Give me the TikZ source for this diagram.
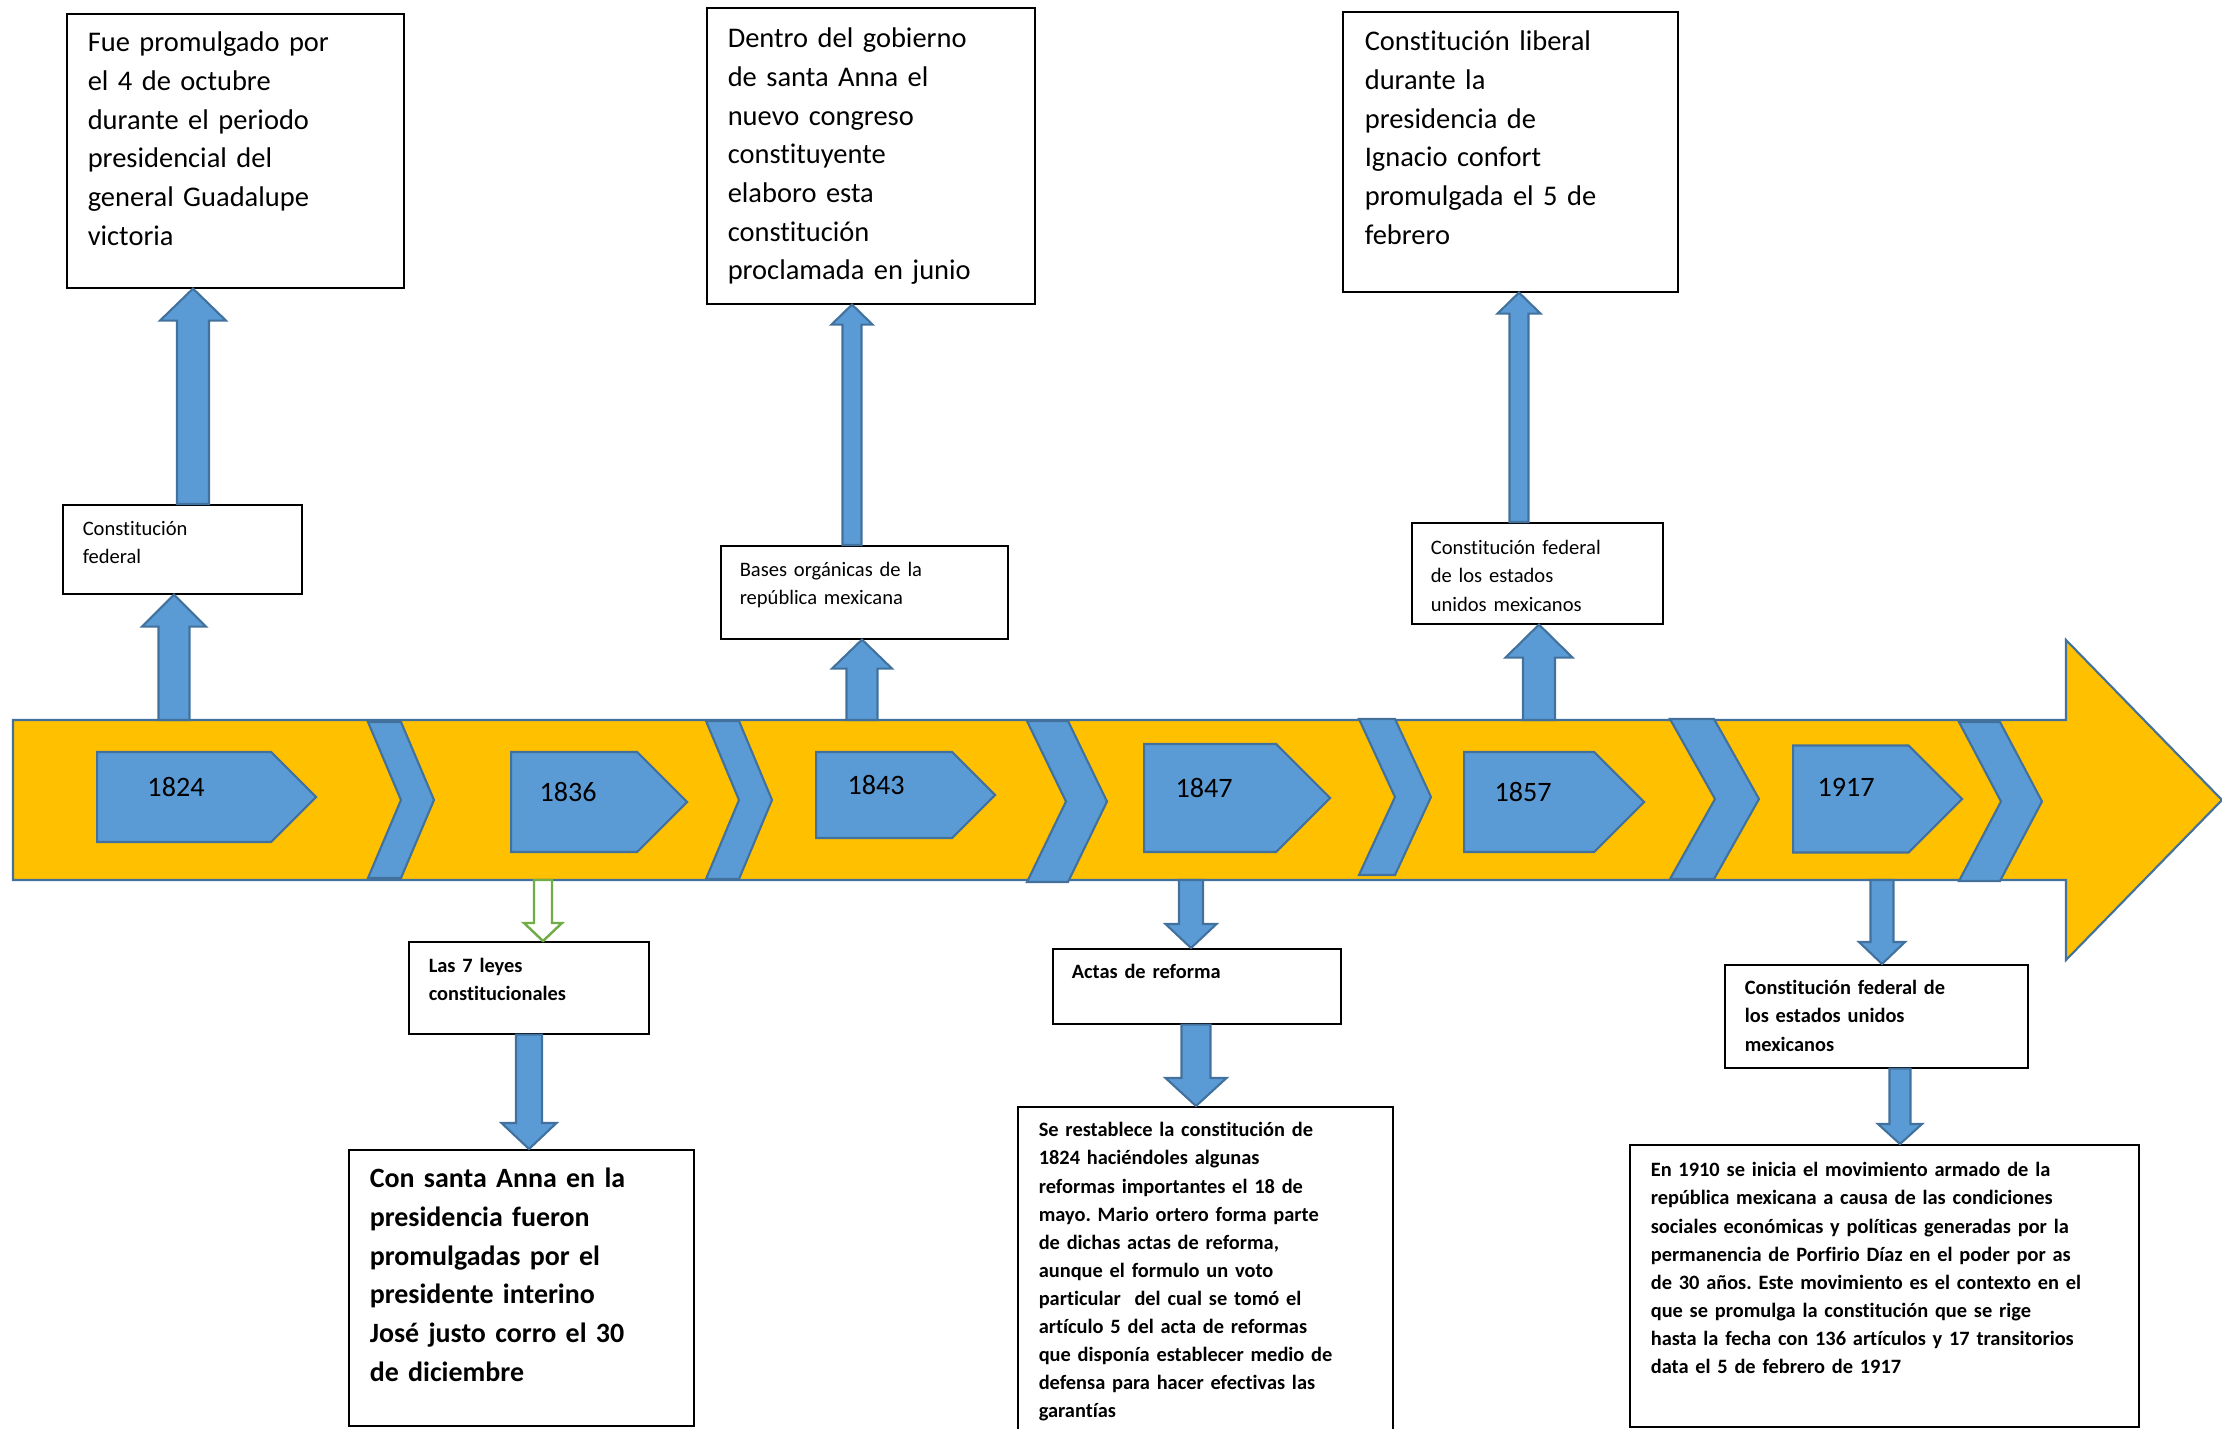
\documentclass[tikz,border=0pt]{standalone}
\usepackage{fontspec}
\setmainfont{Carlito}[Ligatures=NoCommon]
\usetikzlibrary{shapes.symbols,calc}

\definecolor{gold}{HTML}{FFC000}
\definecolor{bfill}{HTML}{5B9BD5}
\definecolor{bline}{HTML}{41719C}
\definecolor{gline}{HTML}{70AD47}

\tikzset{
	band/.style={fill=gold, draw=bline, line width=0.6pt},
	chevron/.style={fill=bfill, draw=bline, line width=0.6pt},
	year/.style={signal, signal to=east, fill=bfill, draw=bline, line width=0.6pt, inner sep=0pt, anchor=west},
	yearlbl/.style={font=\fontsize{8}{9.6}\selectfont, inner sep=0pt},
	blockarrow/.style={fill=bfill, draw=bline, line width=0.6pt},
	hollowarrow/.style={fill=white, draw=gline, line width=0.7pt},
	box/.style={draw=black, fill=white, line width=0.45pt, anchor=north west, align=left, inner ysep=0pt},
	bigbox/.style={box, font=\fontsize{8.1}{11}\selectfont},
	smallbox/.style={box, font=\fontsize{5.85}{8}\selectfont},
	bigbold/.style={box, font=\fontsize{7.95}{11}\selectfont\bfseries},
	smallbold/.style={box, font=\fontsize{5.8}{8}\selectfont\bfseries},
	inbox/.style n args={4}{inner xsep=#1cm, text width=#2cm, text height=#3cm, text depth=#4cm},
}

% fat block arrow between two points on one vertical line
\newcommand{\fatarrow}[6][blockarrow]{%
	\draw[#1] let \p1=#2, \p2=#3, \p3=($(\p2)!#6!(\p1)$) in
		(\x1-#4,\y1) -- (\x1-#4,\y3) -- (\x1-#5,\y3) -- (\x2,\y2)
		-- (\x1+#5,\y3) -- (\x1+#4,\y3) -- (\x1+#4,\y1) -- cycle;}

\frenchspacing

\begin{document}
\begin{tikzpicture}
	\useasboundingbox (0,0) rectangle (22.22,-14.29);

	% timeline band
	\draw[band] (0.13,-7.20) -- (20.66,-7.20) -- (20.66,-6.40) -- (22.22,-8.00)
		-- (20.66,-9.60) -- (20.66,-8.80) -- (0.13,-8.80) -- cycle;
	\coordinate (bandtop) at (0,-7.20);
	\coordinate (bandbot) at (0,-8.80);

	\foreach \l/\w/\d/\t/\b in {3.68/0.33/0.33/7.22/8.78, 7.06/0.33/0.33/7.21/8.79,
			10.27/0.41/0.39/7.21/8.82, 13.59/0.36/0.36/7.19/8.75,
			16.70/0.44/0.45/7.19/8.79, 19.59/0.41/0.42/7.22/8.81}
		\draw[chevron] (\l,-\t) -- ++(\w,0) -- ({\l+\w+\d},{-\t/2-\b/2}) -- ({\l+\w},-\b)
			-- (\l,-\b) -- ({\l+\d},{-\t/2-\b/2}) -- cycle;

	% years
	\node[year, minimum width=2.19cm, minimum height=0.90cm] (p1824) at (0.96,-7.97)  {};
	\node[year, minimum width=1.76cm, minimum height=1.00cm] (p1836) at (5.10,-8.02)  {};
	\node[year, minimum width=1.79cm, minimum height=0.86cm] (p1843) at (8.15,-7.95)  {};
	\node[year, minimum width=1.86cm, minimum height=1.08cm] (p1847) at (11.43,-7.98) {};
	\node[year, minimum width=1.80cm, minimum height=1.00cm] (p1857) at (14.63,-8.02) {};
	\node[year, minimum width=1.69cm, minimum height=1.07cm] (p1917) at (17.92,-7.99) {};

	\node[yearlbl] (t1824) at (1.76,-7.87)  {1824};
	\node[yearlbl] (t1836) at (5.68,-7.92)  {1836};
	\node[yearlbl] (t1843) at (8.76,-7.85)  {1843};
	\node[yearlbl] (t1847) at (12.04,-7.88) {1847};
	\node[yearlbl] (t1857) at (15.23,-7.92) {1857};
	\node[yearlbl] (t1917) at (18.46,-7.87) {1917};

	% boxes above
	\node[bigbox, inbox={0.21}{2.95}{0.38}{2.36}] (fue) at (0.66,-0.13)
		{Fue promulgado por\\el 4 de octubre\\durante el periodo\\presidencial del\\general Guadalupe\\victoria};
	\node[bigbox, inbox={0.21}{2.86}{0.40}{2.56}] (dentro) at (7.06,-0.07)
		{Dentro del gobierno\\de santa Anna el\\nuevo congreso\\constituyente\\elaboro esta\\constitución\\proclamada en junio};
	\node[bigbox, inbox={0.22}{2.91}{0.39}{2.41}] (liberal) at (13.42,-0.11)
		{Constitución liberal\\durante la\\presidencia de\\Ignacio confort\\promulgada el 5 de\\febrero};
	\node[smallbox, inbox={0.20}{1.99}{0.31}{0.58}] (cf) at (0.62,-5.04)
		{Constitución\\federal};
	\node[smallbox, inbox={0.19}{2.49}{0.31}{0.62}] (bases) at (7.20,-5.45)
		{Bases orgánicas de la\\república mexicana};
	\node[smallbox, inbox={0.19}{2.13}{0.32}{0.69}] (cfeu) at (14.11,-5.22)
		{Constitución federal\\de los estados\\unidos mexicanos};

	% boxes below
	\node[smallbold, inbox={0.20}{2.00}{0.31}{0.61}] (leyes) at (4.08,-9.41)
		{Las 7 leyes\\constitucionales};
	\node[bigbold, inbox={0.21}{3.03}{0.38}{2.38}] (santa) at (3.48,-11.49)
		{Con santa Anna en la\\presidencia fueron\\promulgadas por el\\presidente interino\\José justo corro el 30\\de diciembre};
	\node[smallbold, inbox={0.19}{2.50}{0.30}{0.45}] (actas) at (10.52,-9.48)
		{Actas de reforma};
	\node[smallbold, inbox={0.21}{3.33}{0.30}{3.10}] (restab) at (10.17,-11.06)
		{Se restablece la constitución de\\1824 haciéndoles algunas\\reformas importantes el 18 de\\mayo. Mario ortero forma parte\\de dichas actas de reforma,\\aunque el formulo un voto\\particular\ \ del cual se tomó el\\artículo 5 del acta de reformas\\que disponía establecer medio de\\defensa para hacer efectivas las\\garantías};
	\node[smallbold, inbox={0.20}{2.63}{0.30}{0.73}] (cfeu2) at (17.24,-9.64)
		{Constitución federal de\\los estados unidos\\mexicanos};
	\node[smallbold, inbox={0.21}{4.67}{0.32}{2.50}] (en1910) at (16.29,-11.44)
		{En 1910 se inicia el movimiento armado de la\\república mexicana a causa de las condiciones\\sociales económicas y políticas generadas por la\\permanencia de Porfirio Díaz en el poder por as\\de 30 años. Este movimiento es el contexto en el\\que se promulga la constitución que se rige\\hasta la fecha con 136 artículos y 17 transitorios\\data el 5 de febrero de 1917};

	% arrows up
	\fatarrow{(1.74,0 |- bandtop)}{(1.74,0 |- cf.south)}{0.155cm}{0.32cm}{0.32cm}
	\fatarrow{(1.93,0 |- cf.north)}{(1.93,0 |- fue.south)}{0.16cm}{0.33cm}{0.32cm}
	\fatarrow{(8.62,0 |- bandtop)}{(8.62,0 |- bases.south)}{0.155cm}{0.30cm}{0.29cm}
	\fatarrow{(8.52,0 |- bases.north)}{(8.52,0 |- dentro.south)}{0.095cm}{0.205cm}{0.20cm}
	\fatarrow{(15.39,0 |- bandtop)}{(15.39,0 |- cfeu.south)}{0.16cm}{0.335cm}{0.33cm}
	\fatarrow{(15.19,0 |- cfeu.north)}{(15.19,0 |- liberal.south)}{0.095cm}{0.215cm}{0.21cm}

	% arrows down
	\fatarrow[hollowarrow]{(5.43,0 |- bandbot)}{(5.43,0 |- leyes.north)}{0.09cm}{0.19cm}{0.18cm}
	\fatarrow{(5.29,0 |- leyes.south)}{(5.29,0 |- santa.north)}{0.13cm}{0.275cm}{0.26cm}
	\fatarrow{(11.91,0 |- bandbot)}{(11.91,0 |- actas.north)}{0.12cm}{0.255cm}{0.24cm}
	\fatarrow{(11.96,0 |- actas.south)}{(11.96,0 |- restab.north)}{0.145cm}{0.305cm}{0.28cm}
	\fatarrow{(18.82,0 |- bandbot)}{(18.82,0 |- cfeu2.north)}{0.115cm}{0.23cm}{0.22cm}
	\fatarrow{(19.00,0 |- cfeu2.south)}{(19.00,0 |- en1910.north)}{0.105cm}{0.22cm}{0.20cm}
\end{tikzpicture}
\end{document}
